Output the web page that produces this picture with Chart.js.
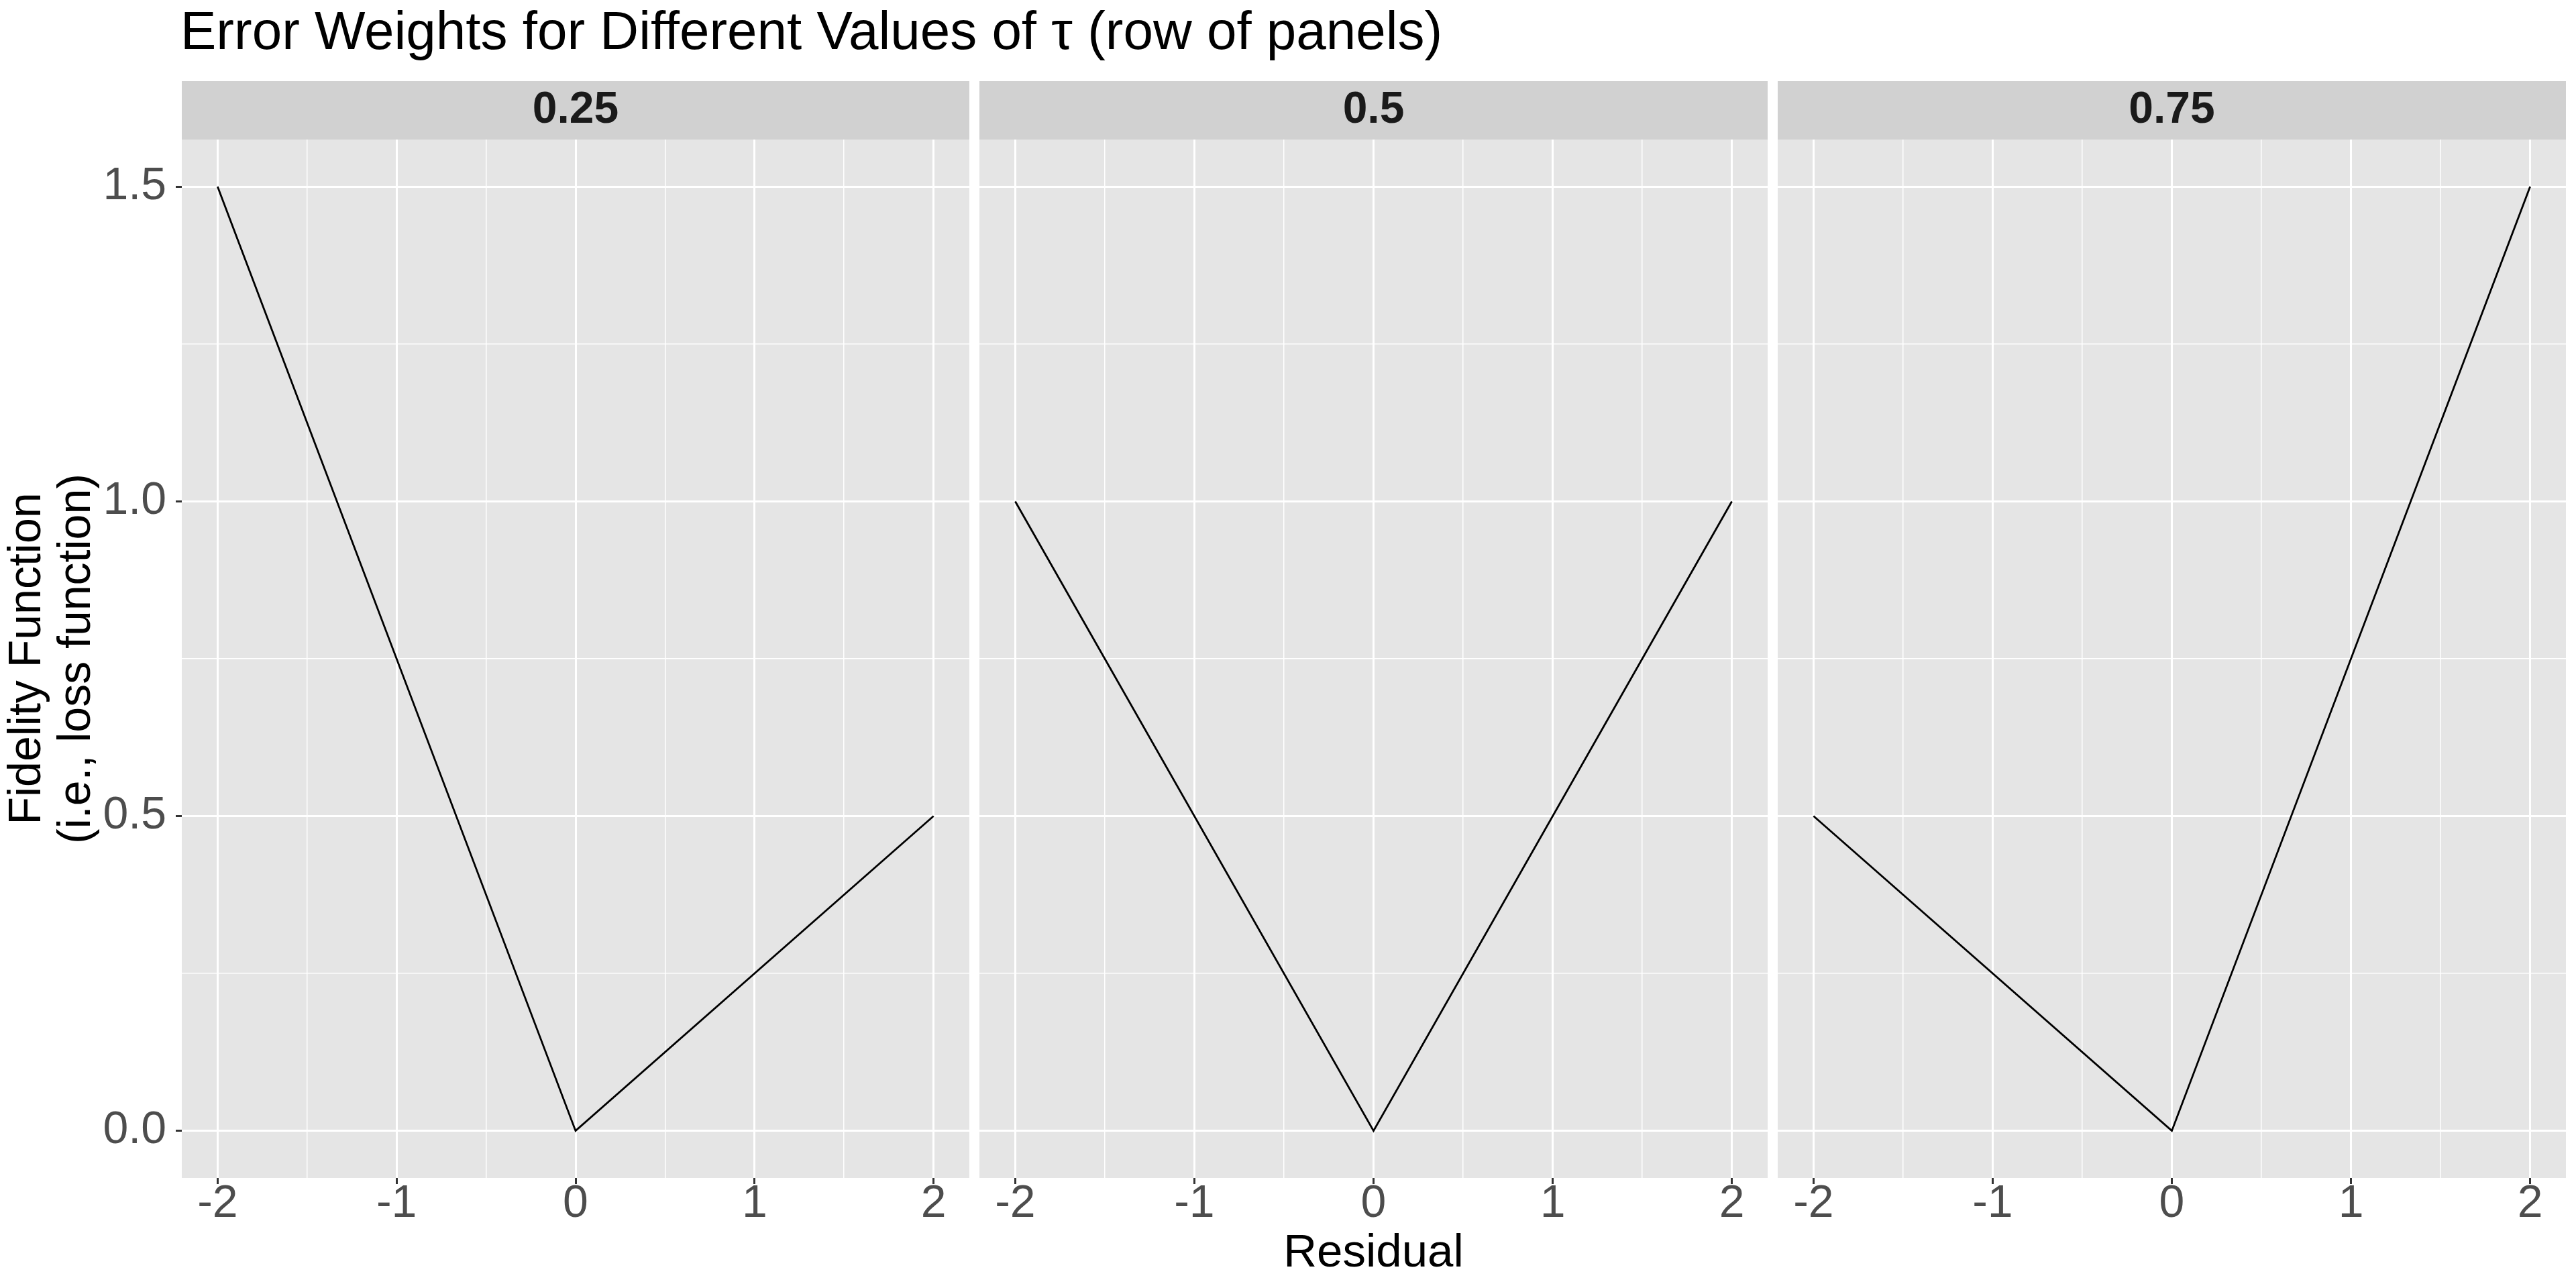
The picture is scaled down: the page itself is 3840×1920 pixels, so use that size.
<!DOCTYPE html>
<html>
<head>
<meta charset="utf-8">
<title>Error Weights for Different Values of tau</title>
<script src="https://cdn.jsdelivr.net/npm/chart.js@4.4.1/dist/chart.umd.min.js"></script>
<style>
  html, body { margin: 0; padding: 0; background: #ffffff; }
  #wrap { position: relative; width: 3840px; height: 1920px; }
  #wrap canvas { position: absolute; left: 0; top: 0; }
</style>
</head>
<body>
<div id="wrap">
  <canvas id="panel1" width="3840" height="1920"></canvas>
  <canvas id="panel2" width="3840" height="1920"></canvas>
  <canvas id="panel3" width="3840" height="1920"></canvas>
</div>
<script>
// data
var taus = ['0.25', '0.5', '0.75'];
var residual = [-2, 0, 2];
var loss25 = [1.5, 0, 0.5];
var loss50 = [1, 0, 1];
var loss75 = [0.5, 0, 1.5];
var xMajor = [-2, -1, 0, 1, 2];
var xMinor = [-1.5, -0.5, 0.5, 1.5];
var yMajor = [0, 0.5, 1, 1.5];
var yMinor = [0.25, 0.75, 1.25];

// layout of the three panels (pixels)
var W = 3840, H = 1920;
var panelLeft = [271, 1460, 2650];
var panelRight = [1445, 2635, 3825];
var panelTop = 208, panelBottom = 1756, stripH = 87;
var FONT = '"Liberation Sans", Arial, Helvetica, sans-serif';

var xGrid = xMajor.concat(xMinor).sort(function(a, b){ return a - b; });
var yGrid = yMajor.concat(yMinor).sort(function(a, b){ return a - b; });

var panelPlugin = {
    id: 'panelBg',
    beforeDraw: function(chart, args, opts) {
        var a = chart.chartArea;
        var ctx = chart.ctx;
        ctx.save();
        ctx.fillStyle = '#E5E5E5';
        ctx.fillRect(a.left, a.top, a.right - a.left, a.bottom - a.top);
        ctx.fillStyle = '#D1D1D1';
        ctx.fillRect(a.left, a.top - stripH, a.right - a.left, stripH);
        ctx.fillStyle = '#1A1A1A';
        ctx.font = 'bold 66px ' + FONT;
        ctx.textAlign = 'center';
        ctx.textBaseline = 'middle';
        ctx.fillText(opts.label, (a.left + a.right) / 2, a.top - stripH / 2);
        if (opts.title) {
            ctx.fillStyle = '#000000';
            ctx.font = '80px ' + FONT;
            ctx.textAlign = 'left';
            ctx.textBaseline = 'alphabetic';
            ctx.fillText(opts.title, a.left - 2, 73);
        }
        ctx.restore();
    }
};

function isIn(list, v) {
    for (var k = 0; k < list.length; k++) {
        if (Math.abs(list[k] - v) < 1e-9) return true;
    }
    return false;
}

function makeChart(i, values) {
    var first = (i === 0);
    var middle = (i === 1);
    var points = residual.map(function(r, k){ return {x: r, y: values[k]}; });

    return new Chart(document.getElementById('panel' + (i + 1)), {
        type: 'line',
        data: {
            datasets: [{
                data: points,
                borderColor: '#000000',
                borderWidth: 2.8,
                pointRadius: 0,
                tension: 0,
                fill: false
            }]
        },
        plugins: [panelPlugin],
        options: {
            responsive: false,
            animation: false,
            devicePixelRatio: 1,
            layout: { padding: { left: 0, right: W - panelRight[i], top: panelTop, bottom: 0 } },
            plugins: {
                legend: { display: false },
                tooltip: { enabled: false },
                panelBg: {
                    label: taus[i],
                    title: first ? 'Error Weights for Different Values of \u03C4 (row of panels)' : null
                }
            },
            scales: {
                x: {
                    type: 'linear',
                    min: -2.2,
                    max: 2.2,
                    afterBuildTicks: function(s){ s.ticks = xGrid.map(function(v){ return {value: v}; }); },
                    afterFit: function(s){ s.height = H - panelBottom; },
                    border: { display: false },
                    grid: {
                        color: '#FFFFFF',
                        lineWidth: function(c){ return isIn(xMajor, c.tick.value) ? 3 : 1.5; },
                        drawTicks: true,
                        tickLength: 9,
                        tickWidth: 3,
                        tickColor: function(c){ return isIn(xMajor, c.tick.value) ? '#333333' : 'rgba(0,0,0,0)'; }
                    },
                    ticks: {
                        autoSkip: false,
                        maxRotation: 0,
                        padding: -4,
                        color: '#4D4D4D',
                        font: { family: FONT, size: 68, lineHeight: 1 },
                        callback: function(v){ return isIn(xMajor, v) ? String(v) : ''; }
                    },
                    title: {
                        display: middle,
                        text: 'Residual',
                        color: '#000000',
                        font: { family: FONT, size: 69, lineHeight: 1.2 },
                        padding: { top: 0, bottom: 10 }
                    }
                },
                y: {
                    type: 'linear',
                    min: -0.075,
                    max: 1.575,
                    afterBuildTicks: function(s){ s.ticks = yGrid.map(function(v){ return {value: v}; }); },
                    afterFit: function(s){ s.width = panelLeft[i]; },
                    border: { display: false },
                    grid: {
                        color: '#FFFFFF',
                        lineWidth: function(c){ return isIn(yMajor, c.tick.value) ? 3 : 1.5; },
                        drawTicks: first,
                        tickLength: 9,
                        tickWidth: 3,
                        tickColor: function(c){ return isIn(yMajor, c.tick.value) ? '#333333' : 'rgba(0,0,0,0)'; }
                    },
                    ticks: {
                        display: first,
                        autoSkip: false,
                        padding: 14,
                        color: '#4D4D4D',
                        font: { family: FONT, size: 68, lineHeight: 1 },
                        callback: function(v){ return isIn(yMajor, v) ? v.toFixed(1) : ''; }
                    },
                    title: {
                        display: first,
                        text: ['Fidelity Function', '(i.e., loss function)'],
                        color: '#000000',
                        font: { family: FONT, size: 68, lineHeight: 1.09 },
                        padding: { top: 4, bottom: 0 }
                    }
                }
            }
        }
    });
}

makeChart(0, loss25);
makeChart(1, loss50);
makeChart(2, loss75);
</script>
</body>
</html>
